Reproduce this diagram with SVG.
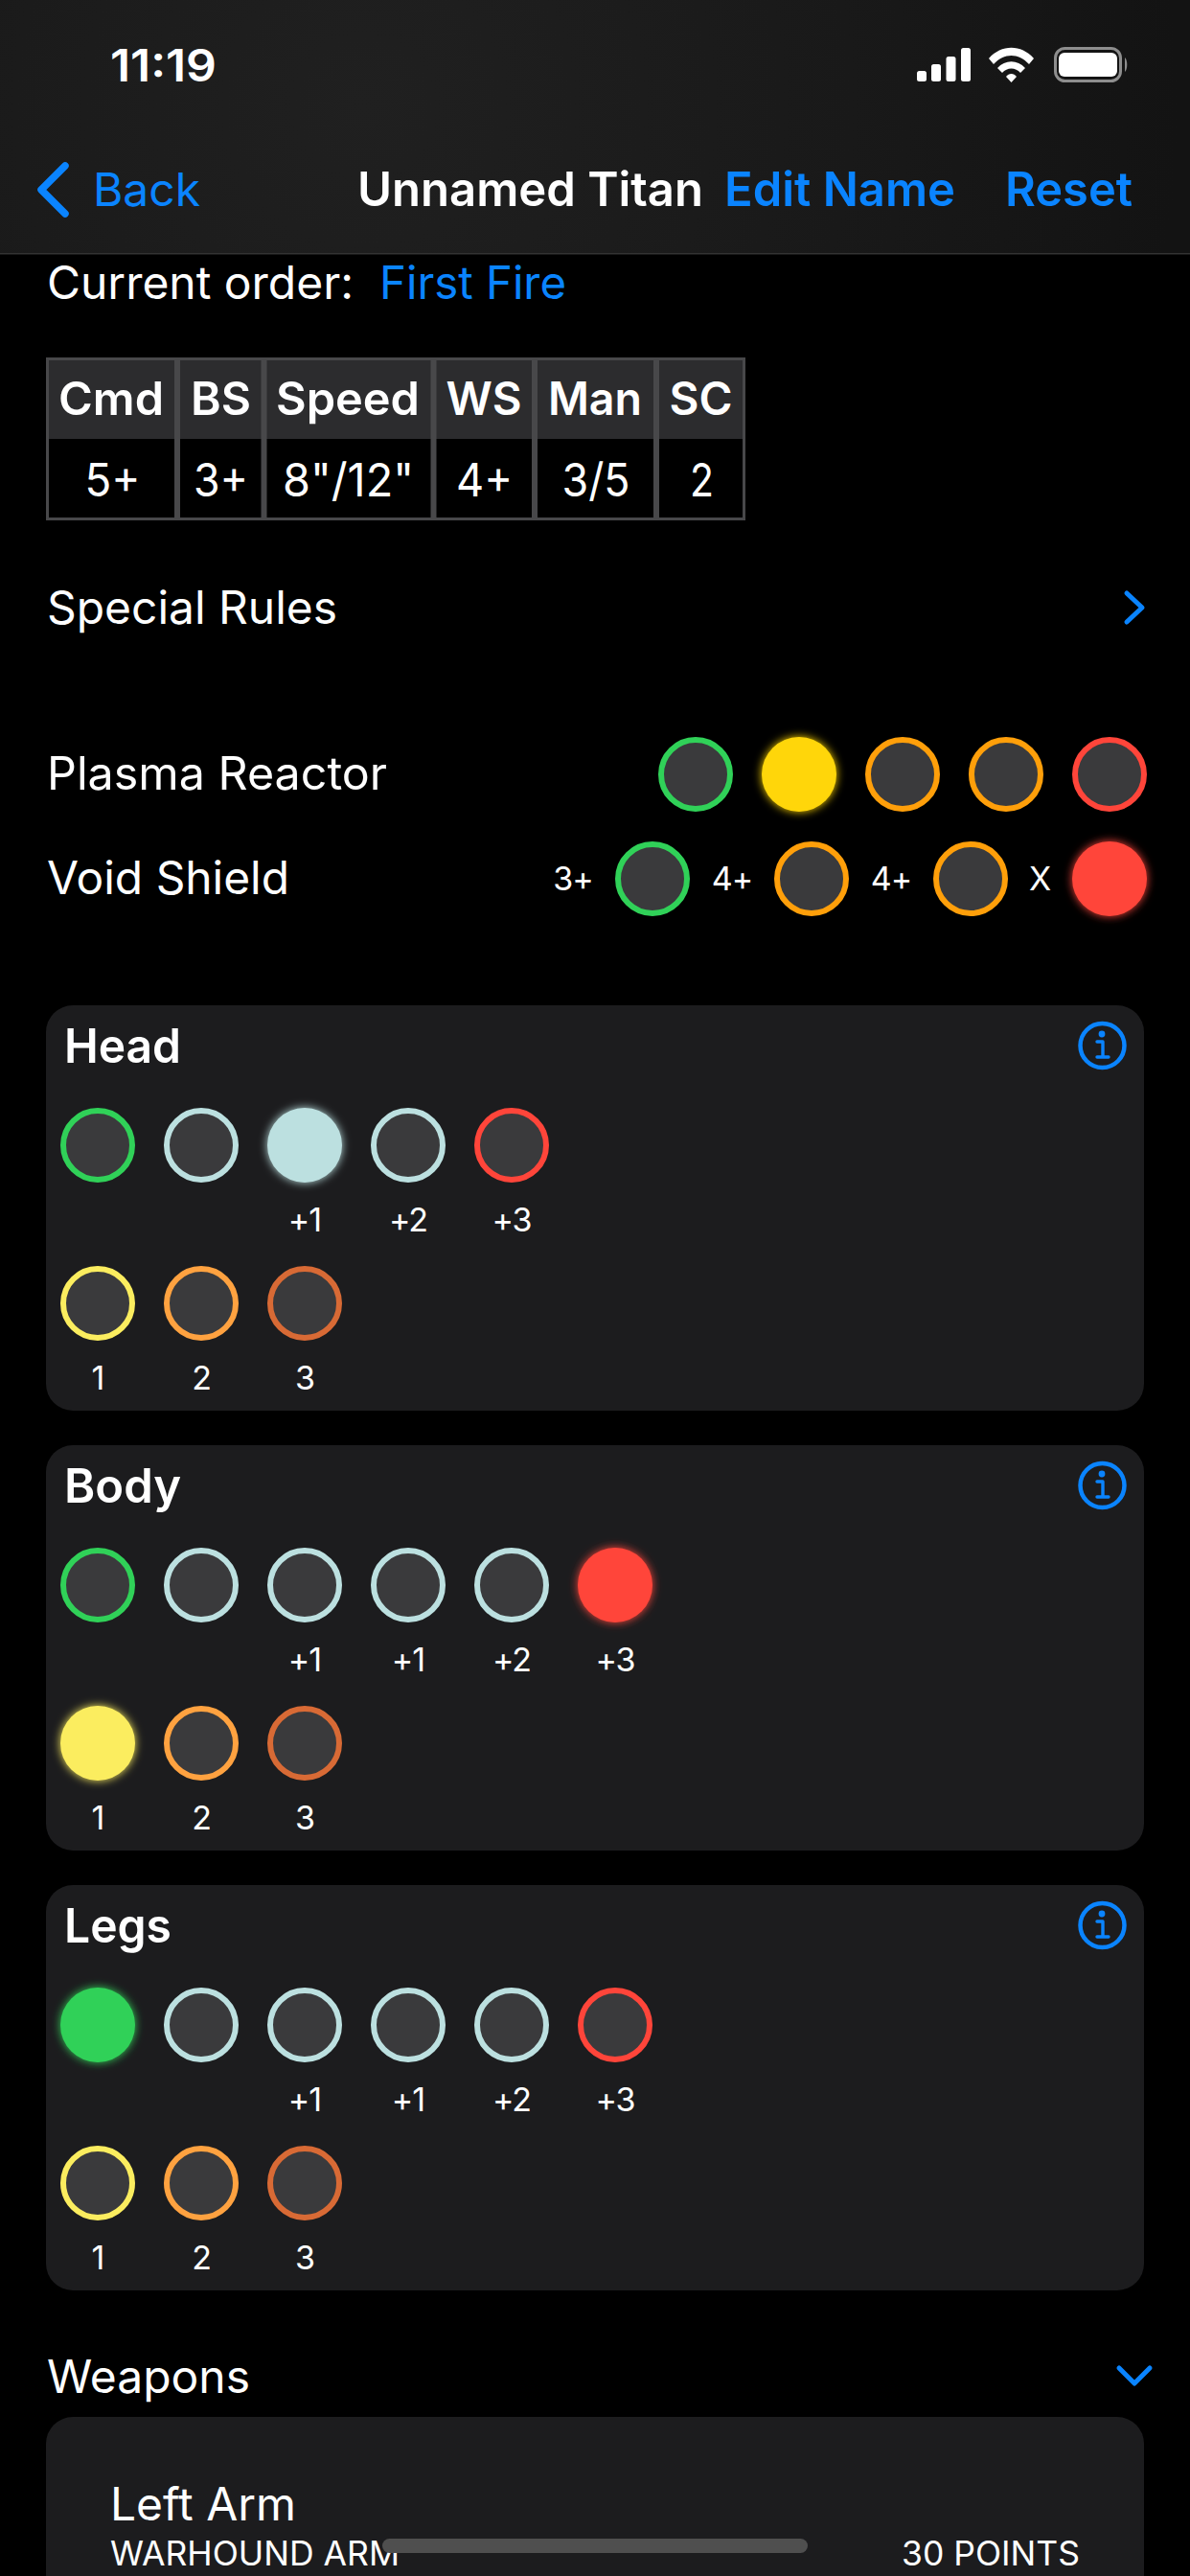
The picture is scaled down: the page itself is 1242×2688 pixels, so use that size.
<svg xmlns="http://www.w3.org/2000/svg" width="1242" height="2688" viewBox="0 0 1242 2688">
<defs>
<style>
text{font-family:Inter,"Liberation Sans",sans-serif;fill:#fff}
.r{font-size:48px;font-weight:400}
.b{font-size:49.5px;font-weight:600}
.blue{fill:#0a84ff}
.s{font-size:34px;font-weight:400;text-anchor:middle;letter-spacing:-1px}
.th{font-size:48px;font-weight:600;text-anchor:middle}
.td{font-size:48px;font-weight:400;text-anchor:middle}
.card{fill:#1c1c1e}
.o{fill:#3a3a3c;stroke-width:6}
.green{stroke:#30d158}.amber{stroke:#ff9f0a}.red{stroke:#ff453a}.pale{stroke:#bce0e0}.yel{stroke:#fbed5f}.org{stroke:#ffa240}.brn{stroke:#d86a35}
.chev{fill:none;stroke:#0a84ff;stroke-linecap:round;stroke-linejoin:round}
.grid{fill:none;stroke:#48484a}
</style>
<filter id="glow" x="-50%" y="-50%" width="200%" height="200%"><feGaussianBlur stdDeviation="5"/></filter>
<radialGradient id="hdr" gradientUnits="userSpaceOnUse" cx="380" cy="110" r="850"><stop offset="0" stop-color="#202020"/><stop offset="0.6" stop-color="#191919"/><stop offset="1" stop-color="#131313"/></radialGradient>
<g id="info"><circle cx="1150.5" cy="0" r="23" fill="none" stroke="#0a84ff" stroke-width="4.5"/><circle cx="1150" cy="-12" r="3.4" fill="#0a84ff"/><path d="M1145 -4H1151V12M1145 12H1157" fill="none" stroke="#0a84ff" stroke-width="3.4" stroke-linecap="round" stroke-linejoin="round"/></g>
</defs>
<rect width="1242" height="2688" fill="#000"/>

<g id="nav-bar">
<rect width="1242" height="264" fill="url(#hdr)"/>
<rect y="264" width="1242" height="1.5" fill="#333"/>
<text x="115" y="85" font-size="46" font-weight="600" textLength="111" lengthAdjust="spacingAndGlyphs">11:19</text>
<g fill="#fff"><rect x="957" y="74" width="10" height="11" rx="2.5"/><rect x="972" y="67" width="10" height="18" rx="2.5"/><rect x="987.5" y="59" width="10" height="26" rx="2.5"/><rect x="1003" y="50" width="10" height="35" rx="2.5"/>
<path d="M1032 61C1045 46 1066 46 1079 61L1074 67C1063 55 1048 55 1037 67Z"/><path d="M1041 71C1049 62 1062 62 1070 71L1065 76C1060 70 1051 70 1046 76Z"/><path d="M1050 80C1053 76 1058 76 1061 80L1055.5 86Z"/></g>
<rect x="1101.5" y="50.5" width="68" height="34" rx="10" fill="none" stroke="#8e8e8e" stroke-width="3"/><rect x="1105" y="55" width="61" height="25" rx="6" fill="#fff"/><path d="M1174 60C1177 62 1177 73 1174 75Z" fill="#8e8e8e"/>
<path class="chev" d="M68 173L43 198L68 223" stroke-width="7.5"/>
<text class="r blue" x="97" y="215" textLength="112" lengthAdjust="spacingAndGlyphs">Back</text>
<text class="b" x="373" y="215" textLength="361" lengthAdjust="spacingAndGlyphs">Unnamed Titan</text>
<text class="b blue" x="756" y="215" textLength="241" lengthAdjust="spacingAndGlyphs">Edit Name</text>
<text class="b blue" x="1049" y="215" textLength="133" lengthAdjust="spacingAndGlyphs">Reset</text>
</g>

<g id="current-order">
<text class="r" x="49" y="312" textLength="320" lengthAdjust="spacingAndGlyphs">Current order:</text>
<text class="r blue" x="396" y="312" textLength="195" lengthAdjust="spacingAndGlyphs">First Fire</text>
</g>

<g id="stats-table">
<rect x="49" y="373" width="729" height="85" fill="#2c2c2e"/>
<rect class="grid" x="49.5" y="374.5" width="727" height="167" stroke-width="3"/>
<path class="grid" d="M185 374V541M275.5 374V541M452.5 374V541M558 374V541M685 374V541" stroke-width="6"/>
<text class="th" x="116" y="433" textLength="110" lengthAdjust="spacingAndGlyphs">Cmd</text><text class="th" x="230.5" y="433" textLength="63" lengthAdjust="spacingAndGlyphs">BS</text><text class="th" x="363" y="433" textLength="150" lengthAdjust="spacingAndGlyphs">Speed</text><text class="th" x="505" y="433" textLength="79" lengthAdjust="spacingAndGlyphs">WS</text><text class="th" x="621" y="433" textLength="98" lengthAdjust="spacingAndGlyphs">Man</text><text class="th" x="731.5" y="433" textLength="66" lengthAdjust="spacingAndGlyphs">SC</text>
<text class="td" x="117.5" y="518" textLength="58" lengthAdjust="spacingAndGlyphs">5+</text><text class="td" x="230.5" y="518" textLength="57" lengthAdjust="spacingAndGlyphs">3+</text><text class="td" x="363.5" y="518" textLength="137" lengthAdjust="spacingAndGlyphs">8"/12"</text><text class="td" x="505.5" y="518" textLength="59" lengthAdjust="spacingAndGlyphs">4+</text><text class="td" x="622" y="518" textLength="71" lengthAdjust="spacingAndGlyphs">3/5</text><text class="td" x="732.5" y="518" textLength="25" lengthAdjust="spacingAndGlyphs">2</text>
</g>

<g id="special-rules">
<text class="r" x="49" y="651" textLength="303" lengthAdjust="spacingAndGlyphs">Special Rules</text>
<path class="chev" d="M1176 619L1192 634L1176 649" stroke-width="5"/>
</g>

<g id="plasma-reactor">
<text class="r" x="49" y="824" textLength="355" lengthAdjust="spacingAndGlyphs">Plasma Reactor</text>
<circle class="o green" cx="726" cy="808" r="36"/>
<circle cx="834" cy="808" r="39" fill="#ffd60a" filter="url(#glow)"/><circle cx="834" cy="808" r="39" fill="#ffd60a"/>
<circle class="o amber" cx="942" cy="808" r="36"/>
<circle class="o amber" cx="1050" cy="808" r="36"/>
<circle class="o red" cx="1158" cy="808" r="36"/>
</g>

<g id="void-shield">
<text class="r" x="49" y="933" textLength="253" lengthAdjust="spacingAndGlyphs">Void Shield</text>
<text class="s" x="598" y="929">3+</text><circle class="o green" cx="681" cy="917" r="36"/>
<text class="s" x="764" y="929">4+</text><circle class="o amber" cx="847" cy="917" r="36"/>
<text class="s" x="930" y="929">4+</text><circle class="o amber" cx="1013" cy="917" r="36"/>
<text class="s" x="1085" y="929">X</text><circle cx="1158" cy="917" r="39" fill="#ff453a" filter="url(#glow)"/><circle cx="1158" cy="917" r="39" fill="#ff453a"/>
</g>

<g id="head-card">
<rect class="card" x="48" y="1049" width="1146" height="423" rx="28"/>
<text class="b" x="67" y="1109" textLength="122" lengthAdjust="spacingAndGlyphs">Head</text>
<use href="#info" y="1091"/>
<circle class="o green" cx="102" cy="1195" r="36"/><circle class="o pale" cx="210" cy="1195" r="36"/>
<circle cx="318" cy="1195" r="39" fill="#bce0e0" filter="url(#glow)"/><circle cx="318" cy="1195" r="39" fill="#bce0e0"/>
<circle class="o pale" cx="426" cy="1195" r="36"/><circle class="o red" cx="534" cy="1195" r="36"/>
<text class="s" x="318" y="1285">+1</text><text class="s" x="426" y="1285">+2</text><text class="s" x="534" y="1285">+3</text>
<circle class="o yel" cx="102" cy="1360" r="36"/><circle class="o org" cx="210" cy="1360" r="36"/><circle class="o brn" cx="318" cy="1360" r="36"/>
<text class="s" x="102" y="1450">1</text><text class="s" x="210" y="1450">2</text><text class="s" x="318" y="1450">3</text>
</g>

<g id="body-card">
<rect class="card" x="48" y="1508" width="1146" height="423" rx="28"/>
<text class="b" x="67" y="1568" textLength="122" lengthAdjust="spacingAndGlyphs">Body</text>
<use href="#info" y="1550"/>
<circle class="o green" cx="102" cy="1654" r="36"/><circle class="o pale" cx="210" cy="1654" r="36"/><circle class="o pale" cx="318" cy="1654" r="36"/><circle class="o pale" cx="426" cy="1654" r="36"/><circle class="o pale" cx="534" cy="1654" r="36"/>
<circle cx="642" cy="1654" r="39" fill="#ff453a" filter="url(#glow)"/><circle cx="642" cy="1654" r="39" fill="#ff453a"/>
<text class="s" x="318" y="1744">+1</text><text class="s" x="426" y="1744">+1</text><text class="s" x="534" y="1744">+2</text><text class="s" x="642" y="1744">+3</text>
<circle cx="102" cy="1819" r="39" fill="#fbed5f" filter="url(#glow)"/><circle cx="102" cy="1819" r="39" fill="#fbed5f"/>
<circle class="o org" cx="210" cy="1819" r="36"/><circle class="o brn" cx="318" cy="1819" r="36"/>
<text class="s" x="102" y="1909">1</text><text class="s" x="210" y="1909">2</text><text class="s" x="318" y="1909">3</text>
</g>

<g id="legs-card">
<rect class="card" x="48" y="1967" width="1146" height="423" rx="28"/>
<text class="b" x="67" y="2027" textLength="112" lengthAdjust="spacingAndGlyphs">Legs</text>
<use href="#info" y="2009"/>
<circle cx="102" cy="2113" r="39" fill="#30d158" filter="url(#glow)"/><circle cx="102" cy="2113" r="39" fill="#30d158"/>
<circle class="o pale" cx="210" cy="2113" r="36"/><circle class="o pale" cx="318" cy="2113" r="36"/><circle class="o pale" cx="426" cy="2113" r="36"/><circle class="o pale" cx="534" cy="2113" r="36"/><circle class="o red" cx="642" cy="2113" r="36"/>
<text class="s" x="318" y="2203">+1</text><text class="s" x="426" y="2203">+1</text><text class="s" x="534" y="2203">+2</text><text class="s" x="642" y="2203">+3</text>
<circle class="o yel" cx="102" cy="2278" r="36"/><circle class="o org" cx="210" cy="2278" r="36"/><circle class="o brn" cx="318" cy="2278" r="36"/>
<text class="s" x="102" y="2368">1</text><text class="s" x="210" y="2368">2</text><text class="s" x="318" y="2368">3</text>
</g>

<g id="weapons">
<text class="r" x="49" y="2497" textLength="212" lengthAdjust="spacingAndGlyphs">Weapons</text>
<path class="chev" d="M1168 2471L1184 2487L1200 2471" stroke-width="5"/>
<rect class="card" x="48" y="2522" width="1146" height="200" rx="28"/>
<text class="r" x="115" y="2630" textLength="194" lengthAdjust="spacingAndGlyphs">Left Arm</text>
<text x="115" y="2677" font-size="35" textLength="302" lengthAdjust="spacingAndGlyphs">WARHOUND ARM</text>
<text x="941" y="2677" font-size="35" textLength="186" lengthAdjust="spacingAndGlyphs">30 POINTS</text>
</g>

<rect id="home-indicator" x="399" y="2649" width="444" height="15" rx="7.5" fill="#4f4f4f"/>
</svg>
